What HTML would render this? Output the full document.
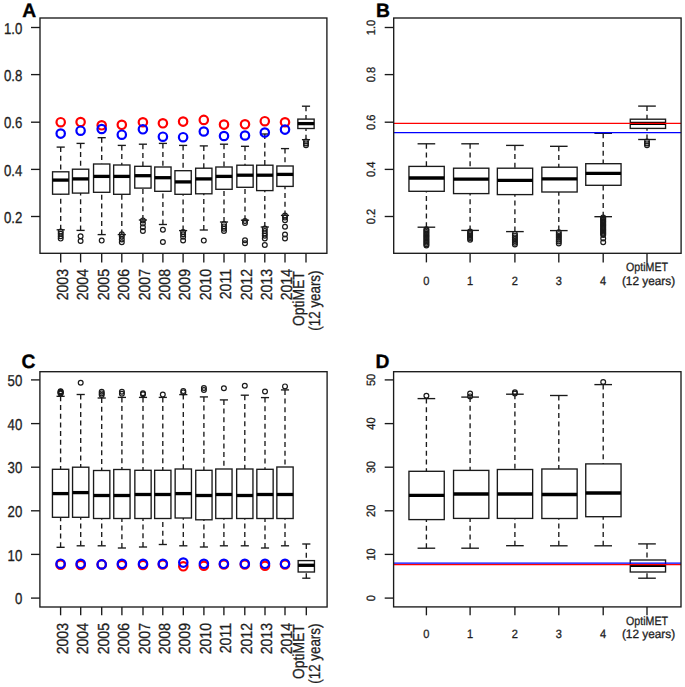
<!DOCTYPE html>
<html><head><meta charset="utf-8"><title>Boxplots</title>
<style>
html,body{margin:0;padding:0;background:#fff;}
body{width:685px;height:687px;overflow:hidden;font-family:"Liberation Sans", sans-serif;}
svg{display:block;}
</style></head><body>
<svg text-rendering="geometricPrecision" width="685" height="687" viewBox="0 0 685 687" font-family='"Liberation Sans", sans-serif'>
<rect x="0" y="0" width="685" height="687" fill="#fff"/>
<line x1="60.70" y1="147.10" x2="60.70" y2="171.80" stroke="#1a1a1a" stroke-width="1.35" stroke-dasharray="5.0 3.7"/>
<line x1="60.70" y1="229.80" x2="60.70" y2="194.20" stroke="#1a1a1a" stroke-width="1.35" stroke-dasharray="5.0 3.7"/>
<line x1="56.62" y1="147.10" x2="64.78" y2="147.10" stroke="#1a1a1a" stroke-width="1.35"/>
<line x1="56.62" y1="229.80" x2="64.78" y2="229.80" stroke="#1a1a1a" stroke-width="1.35"/>
<rect x="52.55" y="171.80" width="16.30" height="22.40" fill="none" stroke="#1a1a1a" stroke-width="1.35"/>
<line x1="52.55" y1="180.10" x2="68.85" y2="180.10" stroke="#000" stroke-width="3.3"/>
<circle cx="60.70" cy="231.60" r="2.4" fill="none" stroke="#1a1a1a" stroke-width="1.2"/>
<circle cx="60.70" cy="233.80" r="2.4" fill="none" stroke="#1a1a1a" stroke-width="1.2"/>
<circle cx="60.70" cy="236.20" r="2.4" fill="none" stroke="#1a1a1a" stroke-width="1.2"/>
<circle cx="60.70" cy="238.60" r="2.4" fill="none" stroke="#1a1a1a" stroke-width="1.2"/>
<line x1="80.60" y1="143.40" x2="80.60" y2="169.20" stroke="#1a1a1a" stroke-width="1.35" stroke-dasharray="5.0 3.7"/>
<line x1="80.60" y1="230.40" x2="80.60" y2="193.10" stroke="#1a1a1a" stroke-width="1.35" stroke-dasharray="5.0 3.7"/>
<line x1="76.52" y1="143.40" x2="84.67" y2="143.40" stroke="#1a1a1a" stroke-width="1.35"/>
<line x1="76.52" y1="230.40" x2="84.67" y2="230.40" stroke="#1a1a1a" stroke-width="1.35"/>
<rect x="72.45" y="169.20" width="16.30" height="23.90" fill="none" stroke="#1a1a1a" stroke-width="1.35"/>
<line x1="72.45" y1="178.90" x2="88.75" y2="178.90" stroke="#000" stroke-width="3.3"/>
<circle cx="80.60" cy="236.30" r="2.4" fill="none" stroke="#1a1a1a" stroke-width="1.2"/>
<circle cx="80.60" cy="241.00" r="2.4" fill="none" stroke="#1a1a1a" stroke-width="1.2"/>
<line x1="101.70" y1="137.70" x2="101.70" y2="164.00" stroke="#1a1a1a" stroke-width="1.35" stroke-dasharray="5.0 3.7"/>
<line x1="101.70" y1="234.60" x2="101.70" y2="192.30" stroke="#1a1a1a" stroke-width="1.35" stroke-dasharray="5.0 3.7"/>
<line x1="97.62" y1="137.70" x2="105.78" y2="137.70" stroke="#1a1a1a" stroke-width="1.35"/>
<line x1="97.62" y1="234.60" x2="105.78" y2="234.60" stroke="#1a1a1a" stroke-width="1.35"/>
<rect x="93.55" y="164.00" width="16.30" height="28.30" fill="none" stroke="#1a1a1a" stroke-width="1.35"/>
<line x1="93.55" y1="176.40" x2="109.85" y2="176.40" stroke="#000" stroke-width="3.3"/>
<circle cx="101.70" cy="240.60" r="2.4" fill="none" stroke="#1a1a1a" stroke-width="1.2"/>
<line x1="121.80" y1="145.40" x2="121.80" y2="165.00" stroke="#1a1a1a" stroke-width="1.35" stroke-dasharray="5.0 3.7"/>
<line x1="121.80" y1="234.60" x2="121.80" y2="194.30" stroke="#1a1a1a" stroke-width="1.35" stroke-dasharray="5.0 3.7"/>
<line x1="117.72" y1="145.40" x2="125.88" y2="145.40" stroke="#1a1a1a" stroke-width="1.35"/>
<line x1="117.72" y1="234.60" x2="125.88" y2="234.60" stroke="#1a1a1a" stroke-width="1.35"/>
<rect x="113.65" y="165.00" width="16.30" height="29.30" fill="none" stroke="#1a1a1a" stroke-width="1.35"/>
<line x1="113.65" y1="176.40" x2="129.95" y2="176.40" stroke="#000" stroke-width="3.3"/>
<circle cx="121.80" cy="234.30" r="2.4" fill="none" stroke="#1a1a1a" stroke-width="1.2"/>
<circle cx="121.80" cy="236.60" r="2.4" fill="none" stroke="#1a1a1a" stroke-width="1.2"/>
<circle cx="121.80" cy="239.40" r="2.4" fill="none" stroke="#1a1a1a" stroke-width="1.2"/>
<circle cx="121.80" cy="242.20" r="2.4" fill="none" stroke="#1a1a1a" stroke-width="1.2"/>
<line x1="142.90" y1="144.20" x2="142.90" y2="166.30" stroke="#1a1a1a" stroke-width="1.35" stroke-dasharray="5.0 3.7"/>
<line x1="142.90" y1="220.00" x2="142.90" y2="188.10" stroke="#1a1a1a" stroke-width="1.35" stroke-dasharray="5.0 3.7"/>
<line x1="138.83" y1="144.20" x2="146.97" y2="144.20" stroke="#1a1a1a" stroke-width="1.35"/>
<line x1="138.83" y1="220.00" x2="146.97" y2="220.00" stroke="#1a1a1a" stroke-width="1.35"/>
<rect x="134.75" y="166.30" width="16.30" height="21.80" fill="none" stroke="#1a1a1a" stroke-width="1.35"/>
<line x1="134.75" y1="175.70" x2="151.05" y2="175.70" stroke="#000" stroke-width="3.3"/>
<circle cx="142.90" cy="220.40" r="2.4" fill="none" stroke="#1a1a1a" stroke-width="1.2"/>
<circle cx="142.90" cy="223.60" r="2.4" fill="none" stroke="#1a1a1a" stroke-width="1.2"/>
<circle cx="142.90" cy="227.30" r="2.4" fill="none" stroke="#1a1a1a" stroke-width="1.2"/>
<circle cx="142.90" cy="231.00" r="2.4" fill="none" stroke="#1a1a1a" stroke-width="1.2"/>
<line x1="162.90" y1="143.40" x2="162.90" y2="167.00" stroke="#1a1a1a" stroke-width="1.35" stroke-dasharray="5.0 3.7"/>
<line x1="162.90" y1="224.50" x2="162.90" y2="191.30" stroke="#1a1a1a" stroke-width="1.35" stroke-dasharray="5.0 3.7"/>
<line x1="158.83" y1="143.40" x2="166.97" y2="143.40" stroke="#1a1a1a" stroke-width="1.35"/>
<line x1="158.83" y1="224.50" x2="166.97" y2="224.50" stroke="#1a1a1a" stroke-width="1.35"/>
<rect x="154.75" y="167.00" width="16.30" height="24.30" fill="none" stroke="#1a1a1a" stroke-width="1.35"/>
<line x1="154.75" y1="177.70" x2="171.05" y2="177.70" stroke="#000" stroke-width="3.3"/>
<circle cx="162.90" cy="229.80" r="2.4" fill="none" stroke="#1a1a1a" stroke-width="1.2"/>
<circle cx="162.90" cy="242.00" r="2.4" fill="none" stroke="#1a1a1a" stroke-width="1.2"/>
<line x1="183.10" y1="145.40" x2="183.10" y2="170.70" stroke="#1a1a1a" stroke-width="1.35" stroke-dasharray="5.0 3.7"/>
<line x1="183.10" y1="230.60" x2="183.10" y2="194.30" stroke="#1a1a1a" stroke-width="1.35" stroke-dasharray="5.0 3.7"/>
<line x1="179.03" y1="145.40" x2="187.17" y2="145.40" stroke="#1a1a1a" stroke-width="1.35"/>
<line x1="179.03" y1="230.60" x2="187.17" y2="230.60" stroke="#1a1a1a" stroke-width="1.35"/>
<rect x="174.95" y="170.70" width="16.30" height="23.60" fill="none" stroke="#1a1a1a" stroke-width="1.35"/>
<line x1="174.95" y1="181.90" x2="191.25" y2="181.90" stroke="#000" stroke-width="3.3"/>
<circle cx="183.10" cy="232.00" r="2.4" fill="none" stroke="#1a1a1a" stroke-width="1.2"/>
<circle cx="183.10" cy="234.20" r="2.4" fill="none" stroke="#1a1a1a" stroke-width="1.2"/>
<circle cx="183.10" cy="236.80" r="2.4" fill="none" stroke="#1a1a1a" stroke-width="1.2"/>
<circle cx="183.10" cy="240.50" r="2.4" fill="none" stroke="#1a1a1a" stroke-width="1.2"/>
<line x1="203.80" y1="145.90" x2="203.80" y2="168.20" stroke="#1a1a1a" stroke-width="1.35" stroke-dasharray="5.0 3.7"/>
<line x1="203.80" y1="230.00" x2="203.80" y2="193.80" stroke="#1a1a1a" stroke-width="1.35" stroke-dasharray="5.0 3.7"/>
<line x1="199.73" y1="145.90" x2="207.88" y2="145.90" stroke="#1a1a1a" stroke-width="1.35"/>
<line x1="199.73" y1="230.00" x2="207.88" y2="230.00" stroke="#1a1a1a" stroke-width="1.35"/>
<rect x="195.65" y="168.20" width="16.30" height="25.60" fill="none" stroke="#1a1a1a" stroke-width="1.35"/>
<line x1="195.65" y1="178.90" x2="211.95" y2="178.90" stroke="#000" stroke-width="3.3"/>
<circle cx="203.80" cy="240.60" r="2.4" fill="none" stroke="#1a1a1a" stroke-width="1.2"/>
<line x1="224.00" y1="144.20" x2="224.00" y2="167.00" stroke="#1a1a1a" stroke-width="1.35" stroke-dasharray="5.0 3.7"/>
<line x1="224.00" y1="222.00" x2="224.00" y2="189.30" stroke="#1a1a1a" stroke-width="1.35" stroke-dasharray="5.0 3.7"/>
<line x1="219.93" y1="144.20" x2="228.07" y2="144.20" stroke="#1a1a1a" stroke-width="1.35"/>
<line x1="219.93" y1="222.00" x2="228.07" y2="222.00" stroke="#1a1a1a" stroke-width="1.35"/>
<rect x="215.85" y="167.00" width="16.30" height="22.30" fill="none" stroke="#1a1a1a" stroke-width="1.35"/>
<line x1="215.85" y1="176.40" x2="232.15" y2="176.40" stroke="#000" stroke-width="3.3"/>
<circle cx="224.00" cy="224.00" r="2.4" fill="none" stroke="#1a1a1a" stroke-width="1.2"/>
<circle cx="224.00" cy="226.40" r="2.4" fill="none" stroke="#1a1a1a" stroke-width="1.2"/>
<circle cx="224.00" cy="228.80" r="2.4" fill="none" stroke="#1a1a1a" stroke-width="1.2"/>
<circle cx="224.00" cy="231.00" r="2.4" fill="none" stroke="#1a1a1a" stroke-width="1.2"/>
<line x1="245.00" y1="146.30" x2="245.00" y2="165.20" stroke="#1a1a1a" stroke-width="1.35" stroke-dasharray="5.0 3.7"/>
<line x1="245.00" y1="220.20" x2="245.00" y2="187.30" stroke="#1a1a1a" stroke-width="1.35" stroke-dasharray="5.0 3.7"/>
<line x1="240.93" y1="146.30" x2="249.07" y2="146.30" stroke="#1a1a1a" stroke-width="1.35"/>
<line x1="240.93" y1="220.20" x2="249.07" y2="220.20" stroke="#1a1a1a" stroke-width="1.35"/>
<rect x="236.85" y="165.20" width="16.30" height="22.10" fill="none" stroke="#1a1a1a" stroke-width="1.35"/>
<line x1="236.85" y1="175.20" x2="253.15" y2="175.20" stroke="#000" stroke-width="3.3"/>
<circle cx="245.00" cy="221.00" r="2.4" fill="none" stroke="#1a1a1a" stroke-width="1.2"/>
<circle cx="245.00" cy="223.00" r="2.4" fill="none" stroke="#1a1a1a" stroke-width="1.2"/>
<circle cx="245.00" cy="240.20" r="2.4" fill="none" stroke="#1a1a1a" stroke-width="1.2"/>
<circle cx="245.00" cy="243.20" r="2.4" fill="none" stroke="#1a1a1a" stroke-width="1.2"/>
<line x1="264.80" y1="134.00" x2="264.80" y2="165.20" stroke="#1a1a1a" stroke-width="1.35" stroke-dasharray="5.0 3.7"/>
<line x1="264.80" y1="227.00" x2="264.80" y2="190.60" stroke="#1a1a1a" stroke-width="1.35" stroke-dasharray="5.0 3.7"/>
<line x1="260.73" y1="134.00" x2="268.88" y2="134.00" stroke="#1a1a1a" stroke-width="1.35"/>
<line x1="260.73" y1="227.00" x2="268.88" y2="227.00" stroke="#1a1a1a" stroke-width="1.35"/>
<rect x="256.65" y="165.20" width="16.30" height="25.40" fill="none" stroke="#1a1a1a" stroke-width="1.35"/>
<line x1="256.65" y1="175.20" x2="272.95" y2="175.20" stroke="#000" stroke-width="3.3"/>
<circle cx="264.80" cy="228.60" r="2.4" fill="none" stroke="#1a1a1a" stroke-width="1.2"/>
<circle cx="264.80" cy="231.00" r="2.4" fill="none" stroke="#1a1a1a" stroke-width="1.2"/>
<circle cx="264.80" cy="233.40" r="2.4" fill="none" stroke="#1a1a1a" stroke-width="1.2"/>
<circle cx="264.80" cy="235.80" r="2.4" fill="none" stroke="#1a1a1a" stroke-width="1.2"/>
<circle cx="264.80" cy="238.40" r="2.4" fill="none" stroke="#1a1a1a" stroke-width="1.2"/>
<circle cx="264.80" cy="245.00" r="2.4" fill="none" stroke="#1a1a1a" stroke-width="1.2"/>
<line x1="285.00" y1="148.60" x2="285.00" y2="166.00" stroke="#1a1a1a" stroke-width="1.35" stroke-dasharray="5.0 3.7"/>
<line x1="285.00" y1="215.40" x2="285.00" y2="186.40" stroke="#1a1a1a" stroke-width="1.35" stroke-dasharray="5.0 3.7"/>
<line x1="280.93" y1="148.60" x2="289.07" y2="148.60" stroke="#1a1a1a" stroke-width="1.35"/>
<line x1="280.93" y1="215.40" x2="289.07" y2="215.40" stroke="#1a1a1a" stroke-width="1.35"/>
<rect x="276.85" y="166.00" width="16.30" height="20.40" fill="none" stroke="#1a1a1a" stroke-width="1.35"/>
<line x1="276.85" y1="174.40" x2="293.15" y2="174.40" stroke="#000" stroke-width="3.3"/>
<circle cx="285.00" cy="215.60" r="2.4" fill="none" stroke="#1a1a1a" stroke-width="1.2"/>
<circle cx="285.00" cy="217.60" r="2.4" fill="none" stroke="#1a1a1a" stroke-width="1.2"/>
<circle cx="285.00" cy="220.20" r="2.4" fill="none" stroke="#1a1a1a" stroke-width="1.2"/>
<circle cx="285.00" cy="226.80" r="2.4" fill="none" stroke="#1a1a1a" stroke-width="1.2"/>
<circle cx="285.00" cy="234.60" r="2.4" fill="none" stroke="#1a1a1a" stroke-width="1.2"/>
<circle cx="285.00" cy="238.40" r="2.4" fill="none" stroke="#1a1a1a" stroke-width="1.2"/>
<line x1="306.00" y1="106.20" x2="306.00" y2="119.10" stroke="#1a1a1a" stroke-width="1.35" stroke-dasharray="5.0 3.7"/>
<line x1="306.00" y1="139.70" x2="306.00" y2="128.50" stroke="#1a1a1a" stroke-width="1.35" stroke-dasharray="5.0 3.7"/>
<line x1="301.93" y1="106.20" x2="310.07" y2="106.20" stroke="#1a1a1a" stroke-width="1.35"/>
<line x1="301.93" y1="139.70" x2="310.07" y2="139.70" stroke="#1a1a1a" stroke-width="1.35"/>
<rect x="297.85" y="119.10" width="16.30" height="9.40" fill="none" stroke="#1a1a1a" stroke-width="1.35"/>
<line x1="297.85" y1="123.60" x2="314.15" y2="123.60" stroke="#000" stroke-width="3.3"/>
<circle cx="306.00" cy="141.60" r="2.4" fill="none" stroke="#1a1a1a" stroke-width="1.2"/>
<circle cx="306.00" cy="143.40" r="2.4" fill="none" stroke="#1a1a1a" stroke-width="1.2"/>
<circle cx="306.00" cy="145.20" r="2.4" fill="none" stroke="#1a1a1a" stroke-width="1.2"/>
<circle cx="60.70" cy="122.20" r="4.2" fill="none" stroke="#f00" stroke-width="2.2"/>
<circle cx="80.60" cy="122.00" r="4.2" fill="none" stroke="#f00" stroke-width="2.2"/>
<circle cx="101.70" cy="125.30" r="4.2" fill="none" stroke="#f00" stroke-width="2.2"/>
<circle cx="121.80" cy="124.80" r="4.2" fill="none" stroke="#f00" stroke-width="2.2"/>
<circle cx="142.90" cy="122.30" r="4.2" fill="none" stroke="#f00" stroke-width="2.2"/>
<circle cx="162.90" cy="123.30" r="4.2" fill="none" stroke="#f00" stroke-width="2.2"/>
<circle cx="183.10" cy="121.60" r="4.2" fill="none" stroke="#f00" stroke-width="2.2"/>
<circle cx="203.80" cy="119.90" r="4.2" fill="none" stroke="#f00" stroke-width="2.2"/>
<circle cx="224.00" cy="124.60" r="4.2" fill="none" stroke="#f00" stroke-width="2.2"/>
<circle cx="245.00" cy="124.30" r="4.2" fill="none" stroke="#f00" stroke-width="2.2"/>
<circle cx="264.80" cy="121.20" r="4.2" fill="none" stroke="#f00" stroke-width="2.2"/>
<circle cx="285.00" cy="122.30" r="4.2" fill="none" stroke="#f00" stroke-width="2.2"/>
<circle cx="60.70" cy="133.60" r="4.2" fill="none" stroke="#00f" stroke-width="2.2"/>
<circle cx="80.60" cy="130.70" r="4.2" fill="none" stroke="#00f" stroke-width="2.2"/>
<circle cx="101.70" cy="129.00" r="4.2" fill="none" stroke="#00f" stroke-width="2.2"/>
<circle cx="121.80" cy="134.70" r="4.2" fill="none" stroke="#00f" stroke-width="2.2"/>
<circle cx="142.90" cy="129.30" r="4.2" fill="none" stroke="#00f" stroke-width="2.2"/>
<circle cx="162.90" cy="136.70" r="4.2" fill="none" stroke="#00f" stroke-width="2.2"/>
<circle cx="183.10" cy="137.20" r="4.2" fill="none" stroke="#00f" stroke-width="2.2"/>
<circle cx="203.80" cy="131.50" r="4.2" fill="none" stroke="#00f" stroke-width="2.2"/>
<circle cx="224.00" cy="136.00" r="4.2" fill="none" stroke="#00f" stroke-width="2.2"/>
<circle cx="245.00" cy="135.50" r="4.2" fill="none" stroke="#00f" stroke-width="2.2"/>
<circle cx="264.80" cy="132.50" r="4.2" fill="none" stroke="#00f" stroke-width="2.2"/>
<circle cx="285.00" cy="129.60" r="4.2" fill="none" stroke="#00f" stroke-width="2.2"/>
<rect x="40.00" y="18.00" width="286.90" height="235.30" fill="none" stroke="#1a1a1a" stroke-width="1.35"/>
<line x1="31.00" y1="27.50" x2="40.00" y2="27.50" stroke="#1a1a1a" stroke-width="1.35"/>
<text transform="translate(22.30 33.60) scale(0.88 1.05)" font-size="15.0" text-anchor="end" font-weight="normal" fill="#1e1e1e" stroke="#1e1e1e" stroke-width="0.3">1.0</text>
<line x1="31.00" y1="74.60" x2="40.00" y2="74.60" stroke="#1a1a1a" stroke-width="1.35"/>
<text transform="translate(22.30 80.70) scale(0.88 1.05)" font-size="15.0" text-anchor="end" font-weight="normal" fill="#1e1e1e" stroke="#1e1e1e" stroke-width="0.3">0.8</text>
<line x1="31.00" y1="122.20" x2="40.00" y2="122.20" stroke="#1a1a1a" stroke-width="1.35"/>
<text transform="translate(22.30 128.30) scale(0.88 1.05)" font-size="15.0" text-anchor="end" font-weight="normal" fill="#1e1e1e" stroke="#1e1e1e" stroke-width="0.3">0.6</text>
<line x1="31.00" y1="169.40" x2="40.00" y2="169.40" stroke="#1a1a1a" stroke-width="1.35"/>
<text transform="translate(22.30 175.50) scale(0.88 1.05)" font-size="15.0" text-anchor="end" font-weight="normal" fill="#1e1e1e" stroke="#1e1e1e" stroke-width="0.3">0.4</text>
<line x1="31.00" y1="216.50" x2="40.00" y2="216.50" stroke="#1a1a1a" stroke-width="1.35"/>
<text transform="translate(22.30 222.60) scale(0.88 1.05)" font-size="15.0" text-anchor="end" font-weight="normal" fill="#1e1e1e" stroke="#1e1e1e" stroke-width="0.3">0.2</text>
<line x1="60.70" y1="253.30" x2="60.70" y2="262.40" stroke="#1a1a1a" stroke-width="1.35"/>
<line x1="80.60" y1="253.30" x2="80.60" y2="262.40" stroke="#1a1a1a" stroke-width="1.35"/>
<line x1="101.70" y1="253.30" x2="101.70" y2="262.40" stroke="#1a1a1a" stroke-width="1.35"/>
<line x1="121.80" y1="253.30" x2="121.80" y2="262.40" stroke="#1a1a1a" stroke-width="1.35"/>
<line x1="142.90" y1="253.30" x2="142.90" y2="262.40" stroke="#1a1a1a" stroke-width="1.35"/>
<line x1="162.90" y1="253.30" x2="162.90" y2="262.40" stroke="#1a1a1a" stroke-width="1.35"/>
<line x1="183.10" y1="253.30" x2="183.10" y2="262.40" stroke="#1a1a1a" stroke-width="1.35"/>
<line x1="203.80" y1="253.30" x2="203.80" y2="262.40" stroke="#1a1a1a" stroke-width="1.35"/>
<line x1="224.00" y1="253.30" x2="224.00" y2="262.40" stroke="#1a1a1a" stroke-width="1.35"/>
<line x1="245.00" y1="253.30" x2="245.00" y2="262.40" stroke="#1a1a1a" stroke-width="1.35"/>
<line x1="264.80" y1="253.30" x2="264.80" y2="262.40" stroke="#1a1a1a" stroke-width="1.35"/>
<line x1="285.00" y1="253.30" x2="285.00" y2="262.40" stroke="#1a1a1a" stroke-width="1.35"/>
<line x1="306.00" y1="253.30" x2="306.00" y2="262.40" stroke="#1a1a1a" stroke-width="1.35"/>
<text transform="translate(67.80 269.00) rotate(-90) scale(0.88 1.0)" font-size="16.0" text-anchor="end" font-weight="normal" fill="#1e1e1e" stroke="#1e1e1e" stroke-width="0.3">2003</text>
<text transform="translate(87.70 269.00) rotate(-90) scale(0.88 1.0)" font-size="16.0" text-anchor="end" font-weight="normal" fill="#1e1e1e" stroke="#1e1e1e" stroke-width="0.3">2004</text>
<text transform="translate(108.80 269.00) rotate(-90) scale(0.88 1.0)" font-size="16.0" text-anchor="end" font-weight="normal" fill="#1e1e1e" stroke="#1e1e1e" stroke-width="0.3">2005</text>
<text transform="translate(128.90 269.00) rotate(-90) scale(0.88 1.0)" font-size="16.0" text-anchor="end" font-weight="normal" fill="#1e1e1e" stroke="#1e1e1e" stroke-width="0.3">2006</text>
<text transform="translate(150.00 269.00) rotate(-90) scale(0.88 1.0)" font-size="16.0" text-anchor="end" font-weight="normal" fill="#1e1e1e" stroke="#1e1e1e" stroke-width="0.3">2007</text>
<text transform="translate(170.00 269.00) rotate(-90) scale(0.88 1.0)" font-size="16.0" text-anchor="end" font-weight="normal" fill="#1e1e1e" stroke="#1e1e1e" stroke-width="0.3">2008</text>
<text transform="translate(190.20 269.00) rotate(-90) scale(0.88 1.0)" font-size="16.0" text-anchor="end" font-weight="normal" fill="#1e1e1e" stroke="#1e1e1e" stroke-width="0.3">2009</text>
<text transform="translate(210.90 269.00) rotate(-90) scale(0.88 1.0)" font-size="16.0" text-anchor="end" font-weight="normal" fill="#1e1e1e" stroke="#1e1e1e" stroke-width="0.3">2010</text>
<text transform="translate(231.10 269.00) rotate(-90) scale(0.88 1.0)" font-size="16.0" text-anchor="end" font-weight="normal" fill="#1e1e1e" stroke="#1e1e1e" stroke-width="0.3">2011</text>
<text transform="translate(252.10 269.00) rotate(-90) scale(0.88 1.0)" font-size="16.0" text-anchor="end" font-weight="normal" fill="#1e1e1e" stroke="#1e1e1e" stroke-width="0.3">2012</text>
<text transform="translate(271.90 269.00) rotate(-90) scale(0.88 1.0)" font-size="16.0" text-anchor="end" font-weight="normal" fill="#1e1e1e" stroke="#1e1e1e" stroke-width="0.3">2013</text>
<text transform="translate(292.10 269.00) rotate(-90) scale(0.88 1.0)" font-size="16.0" text-anchor="end" font-weight="normal" fill="#1e1e1e" stroke="#1e1e1e" stroke-width="0.3">2014</text>
<text transform="translate(303.90 271.30) rotate(-90) scale(0.866 1.0)" font-size="16.0" text-anchor="end" font-weight="normal" fill="#1e1e1e" stroke="#1e1e1e" stroke-width="0.3">OptiMET</text>
<text transform="translate(320.00 270.50) rotate(-90) scale(0.835 1.0)" font-size="16.0" text-anchor="end" font-weight="normal" fill="#1e1e1e" stroke="#1e1e1e" stroke-width="0.3">(12 years)</text>
<text transform="translate(22.20 16.60)" font-size="19.3" text-anchor="start" font-weight="bold" fill="#000" stroke="#000" stroke-width="0.35">A</text>
<line x1="426.40" y1="143.80" x2="426.40" y2="166.40" stroke="#1a1a1a" stroke-width="1.35" stroke-dasharray="5.0 3.7"/>
<line x1="426.40" y1="227.20" x2="426.40" y2="191.30" stroke="#1a1a1a" stroke-width="1.35" stroke-dasharray="5.0 3.7"/>
<line x1="417.57" y1="143.80" x2="435.22" y2="143.80" stroke="#1a1a1a" stroke-width="1.35"/>
<line x1="417.57" y1="227.20" x2="435.22" y2="227.20" stroke="#1a1a1a" stroke-width="1.35"/>
<rect x="408.95" y="166.40" width="35.30" height="24.90" fill="none" stroke="#1a1a1a" stroke-width="1.35"/>
<line x1="408.95" y1="178.00" x2="444.25" y2="178.00" stroke="#000" stroke-width="3.3"/>
<circle cx="426.40" cy="229.20" r="2.4" fill="none" stroke="#1a1a1a" stroke-width="1.2"/>
<circle cx="426.40" cy="230.56" r="2.4" fill="none" stroke="#1a1a1a" stroke-width="1.2"/>
<circle cx="426.40" cy="231.92" r="2.4" fill="none" stroke="#1a1a1a" stroke-width="1.2"/>
<circle cx="426.40" cy="233.27" r="2.4" fill="none" stroke="#1a1a1a" stroke-width="1.2"/>
<circle cx="426.40" cy="234.63" r="2.4" fill="none" stroke="#1a1a1a" stroke-width="1.2"/>
<circle cx="426.40" cy="235.99" r="2.4" fill="none" stroke="#1a1a1a" stroke-width="1.2"/>
<circle cx="426.40" cy="237.35" r="2.4" fill="none" stroke="#1a1a1a" stroke-width="1.2"/>
<circle cx="426.40" cy="238.71" r="2.4" fill="none" stroke="#1a1a1a" stroke-width="1.2"/>
<circle cx="426.40" cy="240.07" r="2.4" fill="none" stroke="#1a1a1a" stroke-width="1.2"/>
<circle cx="426.40" cy="241.43" r="2.4" fill="none" stroke="#1a1a1a" stroke-width="1.2"/>
<circle cx="426.40" cy="242.78" r="2.4" fill="none" stroke="#1a1a1a" stroke-width="1.2"/>
<circle cx="426.40" cy="244.14" r="2.4" fill="none" stroke="#1a1a1a" stroke-width="1.2"/>
<circle cx="426.40" cy="245.50" r="2.4" fill="none" stroke="#1a1a1a" stroke-width="1.2"/>
<line x1="470.10" y1="143.80" x2="470.10" y2="168.20" stroke="#1a1a1a" stroke-width="1.35" stroke-dasharray="5.0 3.7"/>
<line x1="470.10" y1="230.40" x2="470.10" y2="193.60" stroke="#1a1a1a" stroke-width="1.35" stroke-dasharray="5.0 3.7"/>
<line x1="461.28" y1="143.80" x2="478.93" y2="143.80" stroke="#1a1a1a" stroke-width="1.35"/>
<line x1="461.28" y1="230.40" x2="478.93" y2="230.40" stroke="#1a1a1a" stroke-width="1.35"/>
<rect x="453.55" y="168.20" width="35.30" height="25.40" fill="none" stroke="#1a1a1a" stroke-width="1.35"/>
<line x1="453.55" y1="179.20" x2="488.85" y2="179.20" stroke="#000" stroke-width="3.3"/>
<circle cx="470.10" cy="231.60" r="2.4" fill="none" stroke="#1a1a1a" stroke-width="1.2"/>
<circle cx="470.10" cy="232.95" r="2.4" fill="none" stroke="#1a1a1a" stroke-width="1.2"/>
<circle cx="470.10" cy="234.30" r="2.4" fill="none" stroke="#1a1a1a" stroke-width="1.2"/>
<circle cx="470.10" cy="235.65" r="2.4" fill="none" stroke="#1a1a1a" stroke-width="1.2"/>
<circle cx="470.10" cy="237.00" r="2.4" fill="none" stroke="#1a1a1a" stroke-width="1.2"/>
<circle cx="470.10" cy="238.35" r="2.4" fill="none" stroke="#1a1a1a" stroke-width="1.2"/>
<circle cx="470.10" cy="239.70" r="2.4" fill="none" stroke="#1a1a1a" stroke-width="1.2"/>
<line x1="514.90" y1="145.40" x2="514.90" y2="168.20" stroke="#1a1a1a" stroke-width="1.35" stroke-dasharray="5.0 3.7"/>
<line x1="514.90" y1="231.60" x2="514.90" y2="194.60" stroke="#1a1a1a" stroke-width="1.35" stroke-dasharray="5.0 3.7"/>
<line x1="506.07" y1="145.40" x2="523.73" y2="145.40" stroke="#1a1a1a" stroke-width="1.35"/>
<line x1="506.07" y1="231.60" x2="523.73" y2="231.60" stroke="#1a1a1a" stroke-width="1.35"/>
<rect x="497.35" y="168.20" width="35.30" height="26.40" fill="none" stroke="#1a1a1a" stroke-width="1.35"/>
<line x1="497.35" y1="180.30" x2="532.65" y2="180.30" stroke="#000" stroke-width="3.3"/>
<circle cx="514.90" cy="233.90" r="2.4" fill="none" stroke="#1a1a1a" stroke-width="1.2"/>
<circle cx="514.90" cy="235.65" r="2.4" fill="none" stroke="#1a1a1a" stroke-width="1.2"/>
<circle cx="514.90" cy="237.40" r="2.4" fill="none" stroke="#1a1a1a" stroke-width="1.2"/>
<circle cx="514.90" cy="239.15" r="2.4" fill="none" stroke="#1a1a1a" stroke-width="1.2"/>
<circle cx="514.90" cy="240.90" r="2.4" fill="none" stroke="#1a1a1a" stroke-width="1.2"/>
<circle cx="514.90" cy="242.65" r="2.4" fill="none" stroke="#1a1a1a" stroke-width="1.2"/>
<circle cx="514.90" cy="244.40" r="2.4" fill="none" stroke="#1a1a1a" stroke-width="1.2"/>
<line x1="558.80" y1="146.30" x2="558.80" y2="167.20" stroke="#1a1a1a" stroke-width="1.35" stroke-dasharray="5.0 3.7"/>
<line x1="558.80" y1="230.60" x2="558.80" y2="192.00" stroke="#1a1a1a" stroke-width="1.35" stroke-dasharray="5.0 3.7"/>
<line x1="549.97" y1="146.30" x2="567.62" y2="146.30" stroke="#1a1a1a" stroke-width="1.35"/>
<line x1="549.97" y1="230.60" x2="567.62" y2="230.60" stroke="#1a1a1a" stroke-width="1.35"/>
<rect x="541.85" y="167.20" width="35.30" height="24.80" fill="none" stroke="#1a1a1a" stroke-width="1.35"/>
<line x1="541.85" y1="178.90" x2="577.15" y2="178.90" stroke="#000" stroke-width="3.3"/>
<circle cx="558.80" cy="232.30" r="2.4" fill="none" stroke="#1a1a1a" stroke-width="1.2"/>
<circle cx="558.80" cy="234.15" r="2.4" fill="none" stroke="#1a1a1a" stroke-width="1.2"/>
<circle cx="558.80" cy="236.00" r="2.4" fill="none" stroke="#1a1a1a" stroke-width="1.2"/>
<circle cx="558.80" cy="237.85" r="2.4" fill="none" stroke="#1a1a1a" stroke-width="1.2"/>
<circle cx="558.80" cy="239.70" r="2.4" fill="none" stroke="#1a1a1a" stroke-width="1.2"/>
<circle cx="558.80" cy="241.55" r="2.4" fill="none" stroke="#1a1a1a" stroke-width="1.2"/>
<circle cx="558.80" cy="243.40" r="2.4" fill="none" stroke="#1a1a1a" stroke-width="1.2"/>
<line x1="603.20" y1="133.30" x2="603.20" y2="163.70" stroke="#1a1a1a" stroke-width="1.35" stroke-dasharray="5.0 3.7"/>
<line x1="603.20" y1="216.70" x2="603.20" y2="185.30" stroke="#1a1a1a" stroke-width="1.35" stroke-dasharray="5.0 3.7"/>
<line x1="594.38" y1="133.30" x2="612.03" y2="133.30" stroke="#1a1a1a" stroke-width="1.35"/>
<line x1="594.38" y1="216.70" x2="612.03" y2="216.70" stroke="#1a1a1a" stroke-width="1.35"/>
<rect x="585.75" y="163.70" width="35.30" height="21.60" fill="none" stroke="#1a1a1a" stroke-width="1.35"/>
<line x1="585.75" y1="173.40" x2="621.05" y2="173.40" stroke="#000" stroke-width="3.3"/>
<circle cx="603.20" cy="217.40" r="2.4" fill="none" stroke="#1a1a1a" stroke-width="1.2"/>
<circle cx="603.20" cy="218.57" r="2.4" fill="none" stroke="#1a1a1a" stroke-width="1.2"/>
<circle cx="603.20" cy="219.75" r="2.4" fill="none" stroke="#1a1a1a" stroke-width="1.2"/>
<circle cx="603.20" cy="220.92" r="2.4" fill="none" stroke="#1a1a1a" stroke-width="1.2"/>
<circle cx="603.20" cy="222.09" r="2.4" fill="none" stroke="#1a1a1a" stroke-width="1.2"/>
<circle cx="603.20" cy="223.27" r="2.4" fill="none" stroke="#1a1a1a" stroke-width="1.2"/>
<circle cx="603.20" cy="224.44" r="2.4" fill="none" stroke="#1a1a1a" stroke-width="1.2"/>
<circle cx="603.20" cy="225.61" r="2.4" fill="none" stroke="#1a1a1a" stroke-width="1.2"/>
<circle cx="603.20" cy="226.79" r="2.4" fill="none" stroke="#1a1a1a" stroke-width="1.2"/>
<circle cx="603.20" cy="227.96" r="2.4" fill="none" stroke="#1a1a1a" stroke-width="1.2"/>
<circle cx="603.20" cy="229.13" r="2.4" fill="none" stroke="#1a1a1a" stroke-width="1.2"/>
<circle cx="603.20" cy="230.31" r="2.4" fill="none" stroke="#1a1a1a" stroke-width="1.2"/>
<circle cx="603.20" cy="231.48" r="2.4" fill="none" stroke="#1a1a1a" stroke-width="1.2"/>
<circle cx="603.20" cy="232.65" r="2.4" fill="none" stroke="#1a1a1a" stroke-width="1.2"/>
<circle cx="603.20" cy="233.83" r="2.4" fill="none" stroke="#1a1a1a" stroke-width="1.2"/>
<circle cx="603.20" cy="235.00" r="2.4" fill="none" stroke="#1a1a1a" stroke-width="1.2"/>
<circle cx="603.20" cy="238.50" r="2.4" fill="none" stroke="#1a1a1a" stroke-width="1.2"/>
<circle cx="603.20" cy="242.20" r="2.4" fill="none" stroke="#1a1a1a" stroke-width="1.2"/>
<line x1="647.00" y1="106.10" x2="647.00" y2="119.20" stroke="#1a1a1a" stroke-width="1.35" stroke-dasharray="5.0 3.7"/>
<line x1="647.00" y1="139.50" x2="647.00" y2="128.40" stroke="#1a1a1a" stroke-width="1.35" stroke-dasharray="5.0 3.7"/>
<line x1="638.17" y1="106.10" x2="655.83" y2="106.10" stroke="#1a1a1a" stroke-width="1.35"/>
<line x1="638.17" y1="139.50" x2="655.83" y2="139.50" stroke="#1a1a1a" stroke-width="1.35"/>
<rect x="630.25" y="119.20" width="35.30" height="9.20" fill="none" stroke="#1a1a1a" stroke-width="1.35"/>
<line x1="630.25" y1="123.40" x2="665.55" y2="123.40" stroke="#000" stroke-width="3.3"/>
<circle cx="647.00" cy="141.60" r="2.4" fill="none" stroke="#1a1a1a" stroke-width="1.2"/>
<circle cx="647.00" cy="143.40" r="2.4" fill="none" stroke="#1a1a1a" stroke-width="1.2"/>
<circle cx="647.00" cy="145.20" r="2.4" fill="none" stroke="#1a1a1a" stroke-width="1.2"/>
<line x1="393.70" y1="123.40" x2="681.10" y2="123.40" stroke="#f00" stroke-width="1.2"/>
<line x1="393.70" y1="132.60" x2="681.10" y2="132.60" stroke="#00f" stroke-width="1.2"/>
<rect x="393.70" y="18.00" width="287.40" height="235.30" fill="none" stroke="#1a1a1a" stroke-width="1.35"/>
<line x1="384.70" y1="27.50" x2="393.70" y2="27.50" stroke="#1a1a1a" stroke-width="1.35"/>
<text transform="translate(374.60 27.50) rotate(-90) scale(0.92 1.0)" font-size="12.0" text-anchor="middle" font-weight="normal" fill="#1e1e1e" stroke="#1e1e1e" stroke-width="0.3">1.0</text>
<line x1="384.70" y1="74.60" x2="393.70" y2="74.60" stroke="#1a1a1a" stroke-width="1.35"/>
<text transform="translate(374.60 74.60) rotate(-90) scale(0.92 1.0)" font-size="12.0" text-anchor="middle" font-weight="normal" fill="#1e1e1e" stroke="#1e1e1e" stroke-width="0.3">0.8</text>
<line x1="384.70" y1="122.20" x2="393.70" y2="122.20" stroke="#1a1a1a" stroke-width="1.35"/>
<text transform="translate(374.60 122.20) rotate(-90) scale(0.92 1.0)" font-size="12.0" text-anchor="middle" font-weight="normal" fill="#1e1e1e" stroke="#1e1e1e" stroke-width="0.3">0.6</text>
<line x1="384.70" y1="169.40" x2="393.70" y2="169.40" stroke="#1a1a1a" stroke-width="1.35"/>
<text transform="translate(374.60 169.40) rotate(-90) scale(0.92 1.0)" font-size="12.0" text-anchor="middle" font-weight="normal" fill="#1e1e1e" stroke="#1e1e1e" stroke-width="0.3">0.4</text>
<line x1="384.70" y1="216.50" x2="393.70" y2="216.50" stroke="#1a1a1a" stroke-width="1.35"/>
<text transform="translate(374.60 216.50) rotate(-90) scale(0.92 1.0)" font-size="12.0" text-anchor="middle" font-weight="normal" fill="#1e1e1e" stroke="#1e1e1e" stroke-width="0.3">0.2</text>
<line x1="426.40" y1="253.30" x2="426.40" y2="262.40" stroke="#1a1a1a" stroke-width="1.35"/>
<line x1="470.10" y1="253.30" x2="470.10" y2="262.40" stroke="#1a1a1a" stroke-width="1.35"/>
<line x1="514.90" y1="253.30" x2="514.90" y2="262.40" stroke="#1a1a1a" stroke-width="1.35"/>
<line x1="558.80" y1="253.30" x2="558.80" y2="262.40" stroke="#1a1a1a" stroke-width="1.35"/>
<line x1="603.20" y1="253.30" x2="603.20" y2="262.40" stroke="#1a1a1a" stroke-width="1.35"/>
<line x1="647.00" y1="253.30" x2="647.00" y2="262.40" stroke="#1a1a1a" stroke-width="1.35"/>
<text transform="translate(426.40 284.50) scale(0.92 1.0)" font-size="12.0" text-anchor="middle" font-weight="normal" fill="#1e1e1e" stroke="#1e1e1e" stroke-width="0.3">0</text>
<text transform="translate(470.10 284.50) scale(0.92 1.0)" font-size="12.0" text-anchor="middle" font-weight="normal" fill="#1e1e1e" stroke="#1e1e1e" stroke-width="0.3">1</text>
<text transform="translate(514.90 284.50) scale(0.92 1.0)" font-size="12.0" text-anchor="middle" font-weight="normal" fill="#1e1e1e" stroke="#1e1e1e" stroke-width="0.3">2</text>
<text transform="translate(558.80 284.50) scale(0.92 1.0)" font-size="12.0" text-anchor="middle" font-weight="normal" fill="#1e1e1e" stroke="#1e1e1e" stroke-width="0.3">3</text>
<text transform="translate(603.20 284.50) scale(0.92 1.0)" font-size="12.0" text-anchor="middle" font-weight="normal" fill="#1e1e1e" stroke="#1e1e1e" stroke-width="0.3">4</text>
<text transform="translate(647.00 271.40) scale(0.886 1.0)" font-size="12.0" text-anchor="middle" font-weight="normal" fill="#1e1e1e" stroke="#1e1e1e" stroke-width="0.3">OptiMET</text>
<text transform="translate(648.50 284.80) scale(0.985 1.0)" font-size="12.0" text-anchor="middle" font-weight="normal" fill="#1e1e1e" stroke="#1e1e1e" stroke-width="0.3">(12 years)</text>
<text transform="translate(375.90 16.80)" font-size="19.3" text-anchor="start" font-weight="bold" fill="#000" stroke="#000" stroke-width="0.35">B</text>
<line x1="60.60" y1="396.30" x2="60.60" y2="469.30" stroke="#1a1a1a" stroke-width="1.35" stroke-dasharray="5.0 3.7"/>
<line x1="60.60" y1="547.30" x2="60.60" y2="517.30" stroke="#1a1a1a" stroke-width="1.35" stroke-dasharray="5.0 3.7"/>
<line x1="56.52" y1="396.30" x2="64.67" y2="396.30" stroke="#1a1a1a" stroke-width="1.35"/>
<line x1="56.52" y1="547.30" x2="64.67" y2="547.30" stroke="#1a1a1a" stroke-width="1.35"/>
<rect x="52.45" y="469.30" width="16.30" height="48.00" fill="none" stroke="#1a1a1a" stroke-width="1.35"/>
<line x1="52.45" y1="493.60" x2="68.75" y2="493.60" stroke="#000" stroke-width="3.3"/>
<circle cx="60.60" cy="391.20" r="2.4" fill="none" stroke="#1a1a1a" stroke-width="1.2"/>
<circle cx="60.60" cy="391.80" r="2.4" fill="none" stroke="#1a1a1a" stroke-width="1.2"/>
<circle cx="60.60" cy="392.40" r="2.4" fill="none" stroke="#1a1a1a" stroke-width="1.2"/>
<circle cx="60.60" cy="393.00" r="2.4" fill="none" stroke="#1a1a1a" stroke-width="1.2"/>
<circle cx="60.60" cy="393.60" r="2.4" fill="none" stroke="#1a1a1a" stroke-width="1.2"/>
<line x1="80.70" y1="394.50" x2="80.70" y2="467.20" stroke="#1a1a1a" stroke-width="1.35" stroke-dasharray="5.0 3.7"/>
<line x1="80.70" y1="545.80" x2="80.70" y2="517.30" stroke="#1a1a1a" stroke-width="1.35" stroke-dasharray="5.0 3.7"/>
<line x1="76.62" y1="394.50" x2="84.78" y2="394.50" stroke="#1a1a1a" stroke-width="1.35"/>
<line x1="76.62" y1="545.80" x2="84.78" y2="545.80" stroke="#1a1a1a" stroke-width="1.35"/>
<rect x="72.55" y="467.20" width="16.30" height="50.10" fill="none" stroke="#1a1a1a" stroke-width="1.35"/>
<line x1="72.55" y1="492.60" x2="88.85" y2="492.60" stroke="#000" stroke-width="3.3"/>
<circle cx="80.70" cy="382.70" r="2.4" fill="none" stroke="#1a1a1a" stroke-width="1.2"/>
<line x1="101.70" y1="398.00" x2="101.70" y2="470.50" stroke="#1a1a1a" stroke-width="1.35" stroke-dasharray="5.0 3.7"/>
<line x1="101.70" y1="545.80" x2="101.70" y2="518.50" stroke="#1a1a1a" stroke-width="1.35" stroke-dasharray="5.0 3.7"/>
<line x1="97.62" y1="398.00" x2="105.78" y2="398.00" stroke="#1a1a1a" stroke-width="1.35"/>
<line x1="97.62" y1="545.80" x2="105.78" y2="545.80" stroke="#1a1a1a" stroke-width="1.35"/>
<rect x="93.55" y="470.50" width="16.30" height="48.00" fill="none" stroke="#1a1a1a" stroke-width="1.35"/>
<line x1="93.55" y1="495.50" x2="109.85" y2="495.50" stroke="#000" stroke-width="3.3"/>
<circle cx="101.70" cy="391.80" r="2.4" fill="none" stroke="#1a1a1a" stroke-width="1.2"/>
<circle cx="101.70" cy="393.40" r="2.4" fill="none" stroke="#1a1a1a" stroke-width="1.2"/>
<circle cx="101.70" cy="395.00" r="2.4" fill="none" stroke="#1a1a1a" stroke-width="1.2"/>
<line x1="121.90" y1="397.40" x2="121.90" y2="469.50" stroke="#1a1a1a" stroke-width="1.35" stroke-dasharray="5.0 3.7"/>
<line x1="121.90" y1="548.00" x2="121.90" y2="518.50" stroke="#1a1a1a" stroke-width="1.35" stroke-dasharray="5.0 3.7"/>
<line x1="117.83" y1="397.40" x2="125.98" y2="397.40" stroke="#1a1a1a" stroke-width="1.35"/>
<line x1="117.83" y1="548.00" x2="125.98" y2="548.00" stroke="#1a1a1a" stroke-width="1.35"/>
<rect x="113.75" y="469.50" width="16.30" height="49.00" fill="none" stroke="#1a1a1a" stroke-width="1.35"/>
<line x1="113.75" y1="495.50" x2="130.05" y2="495.50" stroke="#000" stroke-width="3.3"/>
<circle cx="121.90" cy="391.80" r="2.4" fill="none" stroke="#1a1a1a" stroke-width="1.2"/>
<circle cx="121.90" cy="393.80" r="2.4" fill="none" stroke="#1a1a1a" stroke-width="1.2"/>
<line x1="143.00" y1="397.40" x2="143.00" y2="470.30" stroke="#1a1a1a" stroke-width="1.35" stroke-dasharray="5.0 3.7"/>
<line x1="143.00" y1="547.00" x2="143.00" y2="518.50" stroke="#1a1a1a" stroke-width="1.35" stroke-dasharray="5.0 3.7"/>
<line x1="138.93" y1="397.40" x2="147.07" y2="397.40" stroke="#1a1a1a" stroke-width="1.35"/>
<line x1="138.93" y1="547.00" x2="147.07" y2="547.00" stroke="#1a1a1a" stroke-width="1.35"/>
<rect x="134.85" y="470.30" width="16.30" height="48.20" fill="none" stroke="#1a1a1a" stroke-width="1.35"/>
<line x1="134.85" y1="494.50" x2="151.15" y2="494.50" stroke="#000" stroke-width="3.3"/>
<circle cx="143.00" cy="393.20" r="2.4" fill="none" stroke="#1a1a1a" stroke-width="1.2"/>
<circle cx="143.00" cy="394.20" r="2.4" fill="none" stroke="#1a1a1a" stroke-width="1.2"/>
<line x1="162.80" y1="397.40" x2="162.80" y2="470.30" stroke="#1a1a1a" stroke-width="1.35" stroke-dasharray="5.0 3.7"/>
<line x1="162.80" y1="544.50" x2="162.80" y2="518.50" stroke="#1a1a1a" stroke-width="1.35" stroke-dasharray="5.0 3.7"/>
<line x1="158.73" y1="397.40" x2="166.88" y2="397.40" stroke="#1a1a1a" stroke-width="1.35"/>
<line x1="158.73" y1="544.50" x2="166.88" y2="544.50" stroke="#1a1a1a" stroke-width="1.35"/>
<rect x="154.65" y="470.30" width="16.30" height="48.20" fill="none" stroke="#1a1a1a" stroke-width="1.35"/>
<line x1="154.65" y1="494.50" x2="170.95" y2="494.50" stroke="#000" stroke-width="3.3"/>
<circle cx="162.80" cy="394.60" r="2.4" fill="none" stroke="#1a1a1a" stroke-width="1.2"/>
<line x1="183.30" y1="394.60" x2="183.30" y2="469.00" stroke="#1a1a1a" stroke-width="1.35" stroke-dasharray="5.0 3.7"/>
<line x1="183.30" y1="545.80" x2="183.30" y2="518.00" stroke="#1a1a1a" stroke-width="1.35" stroke-dasharray="5.0 3.7"/>
<line x1="179.23" y1="394.60" x2="187.38" y2="394.60" stroke="#1a1a1a" stroke-width="1.35"/>
<line x1="179.23" y1="545.80" x2="187.38" y2="545.80" stroke="#1a1a1a" stroke-width="1.35"/>
<rect x="175.15" y="469.00" width="16.30" height="49.00" fill="none" stroke="#1a1a1a" stroke-width="1.35"/>
<line x1="175.15" y1="493.60" x2="191.45" y2="493.60" stroke="#000" stroke-width="3.3"/>
<circle cx="183.30" cy="391.10" r="2.4" fill="none" stroke="#1a1a1a" stroke-width="1.2"/>
<circle cx="183.30" cy="392.40" r="2.4" fill="none" stroke="#1a1a1a" stroke-width="1.2"/>
<line x1="203.90" y1="396.90" x2="203.90" y2="470.30" stroke="#1a1a1a" stroke-width="1.35" stroke-dasharray="5.0 3.7"/>
<line x1="203.90" y1="547.00" x2="203.90" y2="519.80" stroke="#1a1a1a" stroke-width="1.35" stroke-dasharray="5.0 3.7"/>
<line x1="199.83" y1="396.90" x2="207.97" y2="396.90" stroke="#1a1a1a" stroke-width="1.35"/>
<line x1="199.83" y1="547.00" x2="207.97" y2="547.00" stroke="#1a1a1a" stroke-width="1.35"/>
<rect x="195.75" y="470.30" width="16.30" height="49.50" fill="none" stroke="#1a1a1a" stroke-width="1.35"/>
<line x1="195.75" y1="495.50" x2="212.05" y2="495.50" stroke="#000" stroke-width="3.3"/>
<circle cx="203.90" cy="388.00" r="2.4" fill="none" stroke="#1a1a1a" stroke-width="1.2"/>
<circle cx="203.90" cy="390.00" r="2.4" fill="none" stroke="#1a1a1a" stroke-width="1.2"/>
<line x1="223.90" y1="399.90" x2="223.90" y2="469.00" stroke="#1a1a1a" stroke-width="1.35" stroke-dasharray="5.0 3.7"/>
<line x1="223.90" y1="545.80" x2="223.90" y2="518.50" stroke="#1a1a1a" stroke-width="1.35" stroke-dasharray="5.0 3.7"/>
<line x1="219.83" y1="399.90" x2="227.97" y2="399.90" stroke="#1a1a1a" stroke-width="1.35"/>
<line x1="219.83" y1="545.80" x2="227.97" y2="545.80" stroke="#1a1a1a" stroke-width="1.35"/>
<rect x="215.75" y="469.00" width="16.30" height="49.50" fill="none" stroke="#1a1a1a" stroke-width="1.35"/>
<line x1="215.75" y1="494.50" x2="232.05" y2="494.50" stroke="#000" stroke-width="3.3"/>
<circle cx="223.90" cy="388.20" r="2.4" fill="none" stroke="#1a1a1a" stroke-width="1.2"/>
<line x1="244.80" y1="395.20" x2="244.80" y2="469.00" stroke="#1a1a1a" stroke-width="1.35" stroke-dasharray="5.0 3.7"/>
<line x1="244.80" y1="545.80" x2="244.80" y2="518.50" stroke="#1a1a1a" stroke-width="1.35" stroke-dasharray="5.0 3.7"/>
<line x1="240.73" y1="395.20" x2="248.88" y2="395.20" stroke="#1a1a1a" stroke-width="1.35"/>
<line x1="240.73" y1="545.80" x2="248.88" y2="545.80" stroke="#1a1a1a" stroke-width="1.35"/>
<rect x="236.65" y="469.00" width="16.30" height="49.50" fill="none" stroke="#1a1a1a" stroke-width="1.35"/>
<line x1="236.65" y1="495.50" x2="252.95" y2="495.50" stroke="#000" stroke-width="3.3"/>
<circle cx="244.80" cy="385.70" r="2.4" fill="none" stroke="#1a1a1a" stroke-width="1.2"/>
<line x1="265.00" y1="397.60" x2="265.00" y2="469.30" stroke="#1a1a1a" stroke-width="1.35" stroke-dasharray="5.0 3.7"/>
<line x1="265.00" y1="548.00" x2="265.00" y2="518.50" stroke="#1a1a1a" stroke-width="1.35" stroke-dasharray="5.0 3.7"/>
<line x1="260.93" y1="397.60" x2="269.07" y2="397.60" stroke="#1a1a1a" stroke-width="1.35"/>
<line x1="260.93" y1="548.00" x2="269.07" y2="548.00" stroke="#1a1a1a" stroke-width="1.35"/>
<rect x="256.85" y="469.30" width="16.30" height="49.20" fill="none" stroke="#1a1a1a" stroke-width="1.35"/>
<line x1="256.85" y1="494.50" x2="273.15" y2="494.50" stroke="#000" stroke-width="3.3"/>
<circle cx="265.00" cy="391.50" r="2.4" fill="none" stroke="#1a1a1a" stroke-width="1.2"/>
<line x1="285.00" y1="389.90" x2="285.00" y2="467.00" stroke="#1a1a1a" stroke-width="1.35" stroke-dasharray="5.0 3.7"/>
<line x1="285.00" y1="545.80" x2="285.00" y2="518.50" stroke="#1a1a1a" stroke-width="1.35" stroke-dasharray="5.0 3.7"/>
<line x1="280.93" y1="389.90" x2="289.07" y2="389.90" stroke="#1a1a1a" stroke-width="1.35"/>
<line x1="280.93" y1="545.80" x2="289.07" y2="545.80" stroke="#1a1a1a" stroke-width="1.35"/>
<rect x="276.85" y="467.00" width="16.30" height="51.50" fill="none" stroke="#1a1a1a" stroke-width="1.35"/>
<line x1="276.85" y1="494.50" x2="293.15" y2="494.50" stroke="#000" stroke-width="3.3"/>
<circle cx="285.00" cy="386.40" r="2.4" fill="none" stroke="#1a1a1a" stroke-width="1.2"/>
<line x1="306.30" y1="544.00" x2="306.30" y2="560.60" stroke="#1a1a1a" stroke-width="1.35" stroke-dasharray="5.0 3.7"/>
<line x1="306.30" y1="578.20" x2="306.30" y2="572.00" stroke="#1a1a1a" stroke-width="1.35" stroke-dasharray="5.0 3.7"/>
<line x1="302.23" y1="544.00" x2="310.38" y2="544.00" stroke="#1a1a1a" stroke-width="1.35"/>
<line x1="302.23" y1="578.20" x2="310.38" y2="578.20" stroke="#1a1a1a" stroke-width="1.35"/>
<rect x="298.15" y="560.60" width="16.30" height="11.40" fill="none" stroke="#1a1a1a" stroke-width="1.35"/>
<line x1="298.15" y1="565.30" x2="314.45" y2="565.30" stroke="#000" stroke-width="3.3"/>
<circle cx="60.60" cy="564.70" r="4.2" fill="none" stroke="#f00" stroke-width="2.2"/>
<circle cx="80.70" cy="565.00" r="4.2" fill="none" stroke="#f00" stroke-width="2.2"/>
<circle cx="101.70" cy="564.40" r="4.2" fill="none" stroke="#f00" stroke-width="2.2"/>
<circle cx="121.90" cy="565.00" r="4.2" fill="none" stroke="#f00" stroke-width="2.2"/>
<circle cx="143.00" cy="565.00" r="4.2" fill="none" stroke="#f00" stroke-width="2.2"/>
<circle cx="162.80" cy="564.50" r="4.2" fill="none" stroke="#f00" stroke-width="2.2"/>
<circle cx="183.30" cy="566.30" r="4.2" fill="none" stroke="#f00" stroke-width="2.2"/>
<circle cx="203.90" cy="565.80" r="4.2" fill="none" stroke="#f00" stroke-width="2.2"/>
<circle cx="223.90" cy="564.50" r="4.2" fill="none" stroke="#f00" stroke-width="2.2"/>
<circle cx="244.80" cy="564.50" r="4.2" fill="none" stroke="#f00" stroke-width="2.2"/>
<circle cx="265.00" cy="565.80" r="4.2" fill="none" stroke="#f00" stroke-width="2.2"/>
<circle cx="285.00" cy="564.50" r="4.2" fill="none" stroke="#f00" stroke-width="2.2"/>
<circle cx="60.60" cy="563.70" r="4.2" fill="none" stroke="#00f" stroke-width="2.2"/>
<circle cx="80.70" cy="563.80" r="4.2" fill="none" stroke="#00f" stroke-width="2.2"/>
<circle cx="101.70" cy="564.40" r="4.2" fill="none" stroke="#00f" stroke-width="2.2"/>
<circle cx="121.90" cy="563.80" r="4.2" fill="none" stroke="#00f" stroke-width="2.2"/>
<circle cx="143.00" cy="563.80" r="4.2" fill="none" stroke="#00f" stroke-width="2.2"/>
<circle cx="162.80" cy="563.80" r="4.2" fill="none" stroke="#00f" stroke-width="2.2"/>
<circle cx="183.30" cy="562.60" r="4.2" fill="none" stroke="#00f" stroke-width="2.2"/>
<circle cx="203.90" cy="563.80" r="4.2" fill="none" stroke="#00f" stroke-width="2.2"/>
<circle cx="223.90" cy="563.80" r="4.2" fill="none" stroke="#00f" stroke-width="2.2"/>
<circle cx="244.80" cy="563.80" r="4.2" fill="none" stroke="#00f" stroke-width="2.2"/>
<circle cx="265.00" cy="563.80" r="4.2" fill="none" stroke="#00f" stroke-width="2.2"/>
<circle cx="285.00" cy="563.80" r="4.2" fill="none" stroke="#00f" stroke-width="2.2"/>
<rect x="39.90" y="371.70" width="287.20" height="235.30" fill="none" stroke="#1a1a1a" stroke-width="1.35"/>
<line x1="31.00" y1="379.90" x2="39.90" y2="379.90" stroke="#1a1a1a" stroke-width="1.35"/>
<text transform="translate(22.30 386.00) scale(0.88 1.05)" font-size="15.0" text-anchor="end" font-weight="normal" fill="#1e1e1e" stroke="#1e1e1e" stroke-width="0.3">50</text>
<line x1="31.00" y1="423.60" x2="39.90" y2="423.60" stroke="#1a1a1a" stroke-width="1.35"/>
<text transform="translate(22.30 429.70) scale(0.88 1.05)" font-size="15.0" text-anchor="end" font-weight="normal" fill="#1e1e1e" stroke="#1e1e1e" stroke-width="0.3">40</text>
<line x1="31.00" y1="467.20" x2="39.90" y2="467.20" stroke="#1a1a1a" stroke-width="1.35"/>
<text transform="translate(22.30 473.30) scale(0.88 1.05)" font-size="15.0" text-anchor="end" font-weight="normal" fill="#1e1e1e" stroke="#1e1e1e" stroke-width="0.3">30</text>
<line x1="31.00" y1="510.80" x2="39.90" y2="510.80" stroke="#1a1a1a" stroke-width="1.35"/>
<text transform="translate(22.30 516.90) scale(0.88 1.05)" font-size="15.0" text-anchor="end" font-weight="normal" fill="#1e1e1e" stroke="#1e1e1e" stroke-width="0.3">20</text>
<line x1="31.00" y1="554.40" x2="39.90" y2="554.40" stroke="#1a1a1a" stroke-width="1.35"/>
<text transform="translate(22.30 560.50) scale(0.88 1.05)" font-size="15.0" text-anchor="end" font-weight="normal" fill="#1e1e1e" stroke="#1e1e1e" stroke-width="0.3">10</text>
<line x1="31.00" y1="598.10" x2="39.90" y2="598.10" stroke="#1a1a1a" stroke-width="1.35"/>
<text transform="translate(22.30 604.20) scale(0.88 1.05)" font-size="15.0" text-anchor="end" font-weight="normal" fill="#1e1e1e" stroke="#1e1e1e" stroke-width="0.3">0</text>
<line x1="60.60" y1="607.00" x2="60.60" y2="615.30" stroke="#1a1a1a" stroke-width="1.35"/>
<line x1="80.70" y1="607.00" x2="80.70" y2="615.30" stroke="#1a1a1a" stroke-width="1.35"/>
<line x1="101.70" y1="607.00" x2="101.70" y2="615.30" stroke="#1a1a1a" stroke-width="1.35"/>
<line x1="121.90" y1="607.00" x2="121.90" y2="615.30" stroke="#1a1a1a" stroke-width="1.35"/>
<line x1="143.00" y1="607.00" x2="143.00" y2="615.30" stroke="#1a1a1a" stroke-width="1.35"/>
<line x1="162.80" y1="607.00" x2="162.80" y2="615.30" stroke="#1a1a1a" stroke-width="1.35"/>
<line x1="183.30" y1="607.00" x2="183.30" y2="615.30" stroke="#1a1a1a" stroke-width="1.35"/>
<line x1="203.90" y1="607.00" x2="203.90" y2="615.30" stroke="#1a1a1a" stroke-width="1.35"/>
<line x1="223.90" y1="607.00" x2="223.90" y2="615.30" stroke="#1a1a1a" stroke-width="1.35"/>
<line x1="244.80" y1="607.00" x2="244.80" y2="615.30" stroke="#1a1a1a" stroke-width="1.35"/>
<line x1="265.00" y1="607.00" x2="265.00" y2="615.30" stroke="#1a1a1a" stroke-width="1.35"/>
<line x1="285.00" y1="607.00" x2="285.00" y2="615.30" stroke="#1a1a1a" stroke-width="1.35"/>
<line x1="306.30" y1="607.00" x2="306.30" y2="615.30" stroke="#1a1a1a" stroke-width="1.35"/>
<text transform="translate(67.70 623.00) rotate(-90) scale(0.88 1.0)" font-size="16.0" text-anchor="end" font-weight="normal" fill="#1e1e1e" stroke="#1e1e1e" stroke-width="0.3">2003</text>
<text transform="translate(87.80 623.00) rotate(-90) scale(0.88 1.0)" font-size="16.0" text-anchor="end" font-weight="normal" fill="#1e1e1e" stroke="#1e1e1e" stroke-width="0.3">2004</text>
<text transform="translate(108.80 623.00) rotate(-90) scale(0.88 1.0)" font-size="16.0" text-anchor="end" font-weight="normal" fill="#1e1e1e" stroke="#1e1e1e" stroke-width="0.3">2005</text>
<text transform="translate(129.00 623.00) rotate(-90) scale(0.88 1.0)" font-size="16.0" text-anchor="end" font-weight="normal" fill="#1e1e1e" stroke="#1e1e1e" stroke-width="0.3">2006</text>
<text transform="translate(150.10 623.00) rotate(-90) scale(0.88 1.0)" font-size="16.0" text-anchor="end" font-weight="normal" fill="#1e1e1e" stroke="#1e1e1e" stroke-width="0.3">2007</text>
<text transform="translate(169.90 623.00) rotate(-90) scale(0.88 1.0)" font-size="16.0" text-anchor="end" font-weight="normal" fill="#1e1e1e" stroke="#1e1e1e" stroke-width="0.3">2008</text>
<text transform="translate(190.40 623.00) rotate(-90) scale(0.88 1.0)" font-size="16.0" text-anchor="end" font-weight="normal" fill="#1e1e1e" stroke="#1e1e1e" stroke-width="0.3">2009</text>
<text transform="translate(211.00 623.00) rotate(-90) scale(0.88 1.0)" font-size="16.0" text-anchor="end" font-weight="normal" fill="#1e1e1e" stroke="#1e1e1e" stroke-width="0.3">2010</text>
<text transform="translate(231.00 623.00) rotate(-90) scale(0.88 1.0)" font-size="16.0" text-anchor="end" font-weight="normal" fill="#1e1e1e" stroke="#1e1e1e" stroke-width="0.3">2011</text>
<text transform="translate(251.90 623.00) rotate(-90) scale(0.88 1.0)" font-size="16.0" text-anchor="end" font-weight="normal" fill="#1e1e1e" stroke="#1e1e1e" stroke-width="0.3">2012</text>
<text transform="translate(272.10 623.00) rotate(-90) scale(0.88 1.0)" font-size="16.0" text-anchor="end" font-weight="normal" fill="#1e1e1e" stroke="#1e1e1e" stroke-width="0.3">2013</text>
<text transform="translate(292.10 623.00) rotate(-90) scale(0.88 1.0)" font-size="16.0" text-anchor="end" font-weight="normal" fill="#1e1e1e" stroke="#1e1e1e" stroke-width="0.3">2014</text>
<text transform="translate(303.90 624.30) rotate(-90) scale(0.866 1.0)" font-size="16.0" text-anchor="end" font-weight="normal" fill="#1e1e1e" stroke="#1e1e1e" stroke-width="0.3">OptiMET</text>
<text transform="translate(320.00 623.60) rotate(-90) scale(0.835 1.0)" font-size="16.0" text-anchor="end" font-weight="normal" fill="#1e1e1e" stroke="#1e1e1e" stroke-width="0.3">(12 years)</text>
<text transform="translate(21.60 368.20)" font-size="19.3" text-anchor="start" font-weight="bold" fill="#000" stroke="#000" stroke-width="0.35">C</text>
<line x1="426.40" y1="398.60" x2="426.40" y2="471.30" stroke="#1a1a1a" stroke-width="1.35" stroke-dasharray="5.0 3.7"/>
<line x1="426.40" y1="548.20" x2="426.40" y2="519.60" stroke="#1a1a1a" stroke-width="1.35" stroke-dasharray="5.0 3.7"/>
<line x1="417.57" y1="398.60" x2="435.22" y2="398.60" stroke="#1a1a1a" stroke-width="1.35"/>
<line x1="417.57" y1="548.20" x2="435.22" y2="548.20" stroke="#1a1a1a" stroke-width="1.35"/>
<rect x="408.95" y="471.30" width="35.30" height="48.30" fill="none" stroke="#1a1a1a" stroke-width="1.35"/>
<line x1="408.95" y1="495.30" x2="444.25" y2="495.30" stroke="#000" stroke-width="3.3"/>
<circle cx="426.40" cy="395.70" r="2.4" fill="none" stroke="#1a1a1a" stroke-width="1.2"/>
<line x1="470.10" y1="397.10" x2="470.10" y2="470.40" stroke="#1a1a1a" stroke-width="1.35" stroke-dasharray="5.0 3.7"/>
<line x1="470.10" y1="548.20" x2="470.10" y2="518.40" stroke="#1a1a1a" stroke-width="1.35" stroke-dasharray="5.0 3.7"/>
<line x1="461.28" y1="397.10" x2="478.93" y2="397.10" stroke="#1a1a1a" stroke-width="1.35"/>
<line x1="461.28" y1="548.20" x2="478.93" y2="548.20" stroke="#1a1a1a" stroke-width="1.35"/>
<rect x="453.55" y="470.40" width="35.30" height="48.00" fill="none" stroke="#1a1a1a" stroke-width="1.35"/>
<line x1="453.55" y1="494.00" x2="488.85" y2="494.00" stroke="#000" stroke-width="3.3"/>
<circle cx="470.10" cy="393.50" r="2.4" fill="none" stroke="#1a1a1a" stroke-width="1.2"/>
<circle cx="470.10" cy="396.40" r="2.4" fill="none" stroke="#1a1a1a" stroke-width="1.2"/>
<line x1="514.90" y1="394.20" x2="514.90" y2="469.50" stroke="#1a1a1a" stroke-width="1.35" stroke-dasharray="5.0 3.7"/>
<line x1="514.90" y1="545.70" x2="514.90" y2="518.40" stroke="#1a1a1a" stroke-width="1.35" stroke-dasharray="5.0 3.7"/>
<line x1="506.07" y1="394.20" x2="523.73" y2="394.20" stroke="#1a1a1a" stroke-width="1.35"/>
<line x1="506.07" y1="545.70" x2="523.73" y2="545.70" stroke="#1a1a1a" stroke-width="1.35"/>
<rect x="497.35" y="469.50" width="35.30" height="48.90" fill="none" stroke="#1a1a1a" stroke-width="1.35"/>
<line x1="497.35" y1="494.00" x2="532.65" y2="494.00" stroke="#000" stroke-width="3.3"/>
<circle cx="514.90" cy="392.20" r="2.4" fill="none" stroke="#1a1a1a" stroke-width="1.2"/>
<circle cx="514.90" cy="393.60" r="2.4" fill="none" stroke="#1a1a1a" stroke-width="1.2"/>
<line x1="558.80" y1="395.50" x2="558.80" y2="469.00" stroke="#1a1a1a" stroke-width="1.35" stroke-dasharray="5.0 3.7"/>
<line x1="558.80" y1="545.80" x2="558.80" y2="518.50" stroke="#1a1a1a" stroke-width="1.35" stroke-dasharray="5.0 3.7"/>
<line x1="549.97" y1="395.50" x2="567.62" y2="395.50" stroke="#1a1a1a" stroke-width="1.35"/>
<line x1="549.97" y1="545.80" x2="567.62" y2="545.80" stroke="#1a1a1a" stroke-width="1.35"/>
<rect x="541.85" y="469.00" width="35.30" height="49.50" fill="none" stroke="#1a1a1a" stroke-width="1.35"/>
<line x1="541.85" y1="494.50" x2="577.15" y2="494.50" stroke="#000" stroke-width="3.3"/>
<line x1="603.20" y1="384.60" x2="603.20" y2="463.90" stroke="#1a1a1a" stroke-width="1.35" stroke-dasharray="5.0 3.7"/>
<line x1="603.20" y1="545.80" x2="603.20" y2="516.70" stroke="#1a1a1a" stroke-width="1.35" stroke-dasharray="5.0 3.7"/>
<line x1="594.38" y1="384.60" x2="612.03" y2="384.60" stroke="#1a1a1a" stroke-width="1.35"/>
<line x1="594.38" y1="545.80" x2="612.03" y2="545.80" stroke="#1a1a1a" stroke-width="1.35"/>
<rect x="585.75" y="463.90" width="35.30" height="52.80" fill="none" stroke="#1a1a1a" stroke-width="1.35"/>
<line x1="585.75" y1="493.00" x2="621.05" y2="493.00" stroke="#000" stroke-width="3.3"/>
<circle cx="603.20" cy="382.00" r="2.4" fill="none" stroke="#1a1a1a" stroke-width="1.2"/>
<line x1="647.00" y1="543.90" x2="647.00" y2="560.00" stroke="#1a1a1a" stroke-width="1.35" stroke-dasharray="5.0 3.7"/>
<line x1="647.00" y1="578.20" x2="647.00" y2="572.00" stroke="#1a1a1a" stroke-width="1.35" stroke-dasharray="5.0 3.7"/>
<line x1="638.17" y1="543.90" x2="655.83" y2="543.90" stroke="#1a1a1a" stroke-width="1.35"/>
<line x1="638.17" y1="578.20" x2="655.83" y2="578.20" stroke="#1a1a1a" stroke-width="1.35"/>
<rect x="630.25" y="560.00" width="35.30" height="12.00" fill="none" stroke="#1a1a1a" stroke-width="1.35"/>
<line x1="630.25" y1="565.40" x2="665.55" y2="565.40" stroke="#000" stroke-width="3.3"/>
<line x1="393.60" y1="564.60" x2="681.00" y2="564.60" stroke="#f00" stroke-width="1.2"/>
<line x1="393.60" y1="563.10" x2="681.00" y2="563.10" stroke="#00f" stroke-width="1.2"/>
<rect x="393.60" y="371.70" width="287.40" height="235.20" fill="none" stroke="#1a1a1a" stroke-width="1.35"/>
<line x1="384.70" y1="379.90" x2="393.60" y2="379.90" stroke="#1a1a1a" stroke-width="1.35"/>
<text transform="translate(374.60 379.90) rotate(-90) scale(0.92 1.0)" font-size="12.0" text-anchor="middle" font-weight="normal" fill="#1e1e1e" stroke="#1e1e1e" stroke-width="0.3">50</text>
<line x1="384.70" y1="423.60" x2="393.60" y2="423.60" stroke="#1a1a1a" stroke-width="1.35"/>
<text transform="translate(374.60 423.60) rotate(-90) scale(0.92 1.0)" font-size="12.0" text-anchor="middle" font-weight="normal" fill="#1e1e1e" stroke="#1e1e1e" stroke-width="0.3">40</text>
<line x1="384.70" y1="467.20" x2="393.60" y2="467.20" stroke="#1a1a1a" stroke-width="1.35"/>
<text transform="translate(374.60 467.20) rotate(-90) scale(0.92 1.0)" font-size="12.0" text-anchor="middle" font-weight="normal" fill="#1e1e1e" stroke="#1e1e1e" stroke-width="0.3">30</text>
<line x1="384.70" y1="510.80" x2="393.60" y2="510.80" stroke="#1a1a1a" stroke-width="1.35"/>
<text transform="translate(374.60 510.80) rotate(-90) scale(0.92 1.0)" font-size="12.0" text-anchor="middle" font-weight="normal" fill="#1e1e1e" stroke="#1e1e1e" stroke-width="0.3">20</text>
<line x1="384.70" y1="554.40" x2="393.60" y2="554.40" stroke="#1a1a1a" stroke-width="1.35"/>
<text transform="translate(374.60 554.40) rotate(-90) scale(0.92 1.0)" font-size="12.0" text-anchor="middle" font-weight="normal" fill="#1e1e1e" stroke="#1e1e1e" stroke-width="0.3">10</text>
<line x1="384.70" y1="598.10" x2="393.60" y2="598.10" stroke="#1a1a1a" stroke-width="1.35"/>
<text transform="translate(374.60 598.10) rotate(-90) scale(0.92 1.0)" font-size="12.0" text-anchor="middle" font-weight="normal" fill="#1e1e1e" stroke="#1e1e1e" stroke-width="0.3">0</text>
<line x1="426.40" y1="606.90" x2="426.40" y2="615.30" stroke="#1a1a1a" stroke-width="1.35"/>
<line x1="470.10" y1="606.90" x2="470.10" y2="615.30" stroke="#1a1a1a" stroke-width="1.35"/>
<line x1="514.90" y1="606.90" x2="514.90" y2="615.30" stroke="#1a1a1a" stroke-width="1.35"/>
<line x1="558.80" y1="606.90" x2="558.80" y2="615.30" stroke="#1a1a1a" stroke-width="1.35"/>
<line x1="603.20" y1="606.90" x2="603.20" y2="615.30" stroke="#1a1a1a" stroke-width="1.35"/>
<line x1="647.00" y1="606.90" x2="647.00" y2="615.30" stroke="#1a1a1a" stroke-width="1.35"/>
<text transform="translate(426.40 637.90) scale(0.92 1.0)" font-size="12.0" text-anchor="middle" font-weight="normal" fill="#1e1e1e" stroke="#1e1e1e" stroke-width="0.3">0</text>
<text transform="translate(470.10 637.90) scale(0.92 1.0)" font-size="12.0" text-anchor="middle" font-weight="normal" fill="#1e1e1e" stroke="#1e1e1e" stroke-width="0.3">1</text>
<text transform="translate(514.90 637.90) scale(0.92 1.0)" font-size="12.0" text-anchor="middle" font-weight="normal" fill="#1e1e1e" stroke="#1e1e1e" stroke-width="0.3">2</text>
<text transform="translate(558.80 637.90) scale(0.92 1.0)" font-size="12.0" text-anchor="middle" font-weight="normal" fill="#1e1e1e" stroke="#1e1e1e" stroke-width="0.3">3</text>
<text transform="translate(603.20 637.90) scale(0.92 1.0)" font-size="12.0" text-anchor="middle" font-weight="normal" fill="#1e1e1e" stroke="#1e1e1e" stroke-width="0.3">4</text>
<text transform="translate(647.00 624.60) scale(0.886 1.0)" font-size="12.0" text-anchor="middle" font-weight="normal" fill="#1e1e1e" stroke="#1e1e1e" stroke-width="0.3">OptiMET</text>
<text transform="translate(648.50 638.20) scale(0.985 1.0)" font-size="12.0" text-anchor="middle" font-weight="normal" fill="#1e1e1e" stroke="#1e1e1e" stroke-width="0.3">(12 years)</text>
<text transform="translate(375.40 367.80)" font-size="19.3" text-anchor="start" font-weight="bold" fill="#000" stroke="#000" stroke-width="0.35">D</text>
</svg>
</body></html>
